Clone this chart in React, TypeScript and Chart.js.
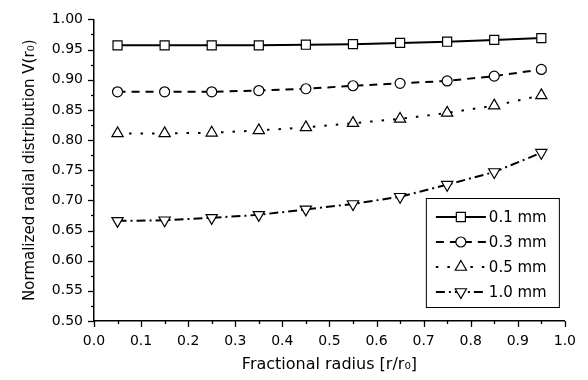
import React, { useEffect, useRef } from 'react';
import { Chart, registerables } from 'chart.js';

Chart.register(...registerables);

const radius = [0.05, 0.15, 0.25, 0.35, 0.45, 0.55, 0.65, 0.75, 0.85, 0.95];
const seriesLabels = ['0.1 mm', '0.3 mm', '0.5 mm', '1.0 mm'];
const v01 = [0.957, 0.957, 0.957, 0.957, 0.958, 0.959, 0.961, 0.963, 0.966, 0.969];
const v03 = [0.880, 0.880, 0.880, 0.882, 0.885, 0.890, 0.894, 0.898, 0.906, 0.917];
const v05 = [0.811, 0.811, 0.812, 0.816, 0.821, 0.828, 0.835, 0.845, 0.857, 0.874];
const v10 = [0.666, 0.667, 0.671, 0.676, 0.685, 0.694, 0.706, 0.726, 0.747, 0.779];

const xMin = 0, xMax = 1.0, xMajor = 0.1, xMinor = 0.05;
const yMin = 0.5, yMax = 1.0, yMajor = 0.05, yMinor = 0.025;

const FONT = '"DejaVu Sans", sans-serif';

function drawMarker(ctx: CanvasRenderingContext2D, style: string, x: number, y: number, r: number, rot: number) {
  ctx.beginPath();
  if (style === 'circle') {
    ctx.arc(x, y, r, 0, Math.PI * 2);
  } else if (style === 'rect') {
    const s = r * Math.SQRT1_2;
    ctx.rect(x - s, y - s, 2 * s, 2 * s);
  } else {
    let a = (rot * Math.PI) / 180;
    for (let i = 0; i < 3; i++) {
      const px = x + Math.sin(a) * r;
      const py = y - Math.cos(a) * r;
      if (i === 0) ctx.moveTo(px, py); else ctx.lineTo(px, py);
      a += (2 * Math.PI) / 3;
    }
    ctx.closePath();
  }
  ctx.fill();
  ctx.stroke();
}

const ticksPlugin = {
  id: 'axisTicks',
  afterDraw(chart: any) {
    const { ctx } = chart;
    const xs = chart.scales.x, ys = chart.scales.y;
    const { left, bottom } = chart.chartArea;
    ctx.save();
    ctx.strokeStyle = '#000';
    ctx.lineWidth = 1.3;
    const ny = Math.round((yMax - yMin) / yMinor);
    for (let i = 0; i <= ny; i++) {
      const v = yMin + i * yMinor;
      const py = Math.round(ys.getPixelForValue(v)) + 0.5;
      const len = Math.abs((v - yMin) / yMajor - Math.round((v - yMin) / yMajor)) < 1e-6 ? 6 : 3;
      ctx.beginPath(); ctx.moveTo(left - len, py); ctx.lineTo(left, py); ctx.stroke();
    }
    const nx = Math.round((xMax - xMin) / xMinor);
    for (let i = 0; i <= nx; i++) {
      const v = xMin + i * xMinor;
      const px = Math.round(xs.getPixelForValue(v)) + 0.5;
      const len = Math.abs((v - xMin) / xMajor - Math.round((v - xMin) / xMajor)) < 1e-6 ? 6 : 3;
      ctx.beginPath(); ctx.moveTo(px, bottom); ctx.lineTo(px, bottom + len); ctx.stroke();
    }
    ctx.restore();
  },
};

const legendPlugin = {
  id: 'boxLegend',
  afterDraw(chart: any) {
    const { ctx } = chart;
    const { right, bottom } = chart.chartArea;
    const w = 133, h = 109;
    const bx = right - 6 - w, by = bottom - 14 - h;
    ctx.save();
    ctx.fillStyle = '#fff';
    ctx.fillRect(bx, by, w, h);
    ctx.strokeStyle = '#000';
    ctx.lineWidth = 1;
    ctx.strokeRect(bx + 0.5, by + 0.5, w, h);
    chart.data.datasets.forEach((ds: any, i: number) => {
      const cy = by + 19 + i * 25;
      ctx.strokeStyle = '#000';
      ctx.lineWidth = ds.borderWidth;
      ctx.setLineDash(ds.borderDash || []);
      ctx.beginPath(); ctx.moveTo(bx + 10, cy); ctx.lineTo(bx + 60, cy); ctx.stroke();
      ctx.setLineDash([]);
      ctx.fillStyle = '#fff';
      ctx.lineWidth = ds.pointBorderWidth;
      drawMarker(ctx, ds.pointStyle, bx + 35, cy, ds.pointRadius, ds.pointRotation || 0);
      ctx.fillStyle = '#000';
      ctx.font = `15px ${FONT}`;
      ctx.textAlign = 'left';
      ctx.textBaseline = 'middle';
      ctx.fillText(ds.label, bx + 63, cy + 1);
    });
    ctx.restore();
  },
};

function mk(label: string, vals: number[], dash: number[], style: string, r: number, rot = 0) {
  return {
    label,
    data: radius.map((x, i) => ({ x, y: vals[i] })),
    borderColor: '#000',
    borderWidth: 2,
    borderDash: dash,
    pointStyle: style,
    pointRadius: r,
    pointRotation: rot,
    pointBackgroundColor: '#fff',
    pointBorderColor: '#000',
    pointBorderWidth: 1.2,
    fill: false,
    tension: 0,
  };
}

export default function App() {
  const ref = useRef<HTMLCanvasElement>(null);
  useEffect(() => {
    document.body.style.margin = '0';
    const chart = new Chart(ref.current as HTMLCanvasElement, {
      type: 'line',
      data: {
        datasets: [
          mk(seriesLabels[0], v01, [], 'rect', 6.4),
          mk(seriesLabels[1], v03, [8, 6], 'circle', 5),
          mk(seriesLabels[2], v05, [2.5, 9], 'triangle', 6.5),
          mk(seriesLabels[3], v10, [9, 4, 2, 4], 'triangle', 6.5, 180),
        ] as any,
      },
      options: {
        animation: false,
        responsive: false,
        layout: { padding: { top: 15, right: 23, left: 0, bottom: 0 } },
        plugins: { legend: { display: false }, tooltip: { enabled: false } },
        scales: {
          x: {
            type: 'linear',
            min: xMin,
            max: xMax,
            grid: { display: false, drawTicks: false },
            border: { display: true, color: '#000', width: 1.5 },
            ticks: {
              stepSize: xMajor,
              color: '#000',
              padding: 12,
              font: { family: FONT, size: 14 },
              maxRotation: 0,
              callback: (v: any) => Number(v).toFixed(1),
            },
            title: {
              display: true,
              text: 'Fractional radius [r/r₀]',
              color: '#000',
              font: { family: FONT, size: 16 },
              padding: { top: 0, bottom: 6 },
            },
            afterFit: (s: any) => { s.height = 59; },
          },
          y: {
            type: 'linear',
            min: yMin,
            max: yMax,
            grid: { display: false, drawTicks: false },
            border: { display: true, color: '#000', width: 1.5 },
            ticks: {
              stepSize: yMajor,
              color: '#000',
              padding: 11,
              font: { family: FONT, size: 14 },
              callback: (v: any) => Number(v).toFixed(2),
            },
            title: {
              display: true,
              text: 'Normalized radial distribution V(r₀)',
              color: '#000',
              font: { family: FONT, size: 15 },
              padding: { top: 21, bottom: 0 },
            },
            afterFit: (s: any) => { s.width = 94; },
          },
        },
      } as any,
      plugins: [ticksPlugin, legendPlugin],
    });
    return () => chart.destroy();
  }, []);
  return (
    <div style={{ width: 588, height: 380 }}>
      <canvas ref={ref} width={588} height={380} />
    </div>
  );
}
